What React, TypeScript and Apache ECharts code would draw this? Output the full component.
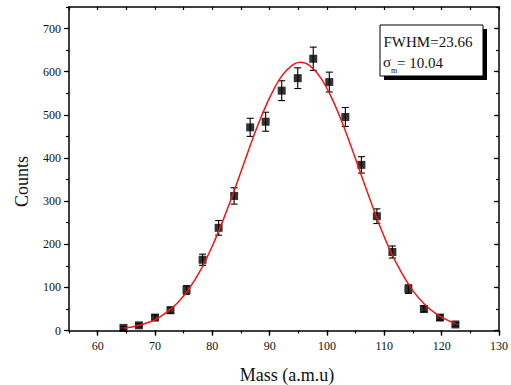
import React, { useEffect, useRef } from "react";
import * as echarts from "echarts";

// Measured data points (Mass in a.m.u, Counts, error)
const massX = [64.5, 67.2, 70.0, 72.7, 75.5, 78.3, 81.1, 83.8, 86.6, 89.3, 92.1, 94.9, 97.6, 100.4, 103.2, 106.0, 108.7, 111.4, 114.2, 116.9, 119.7, 122.4];
const counts = [6, 12, 30, 47, 94, 164, 238, 312, 471, 484, 556, 585, 630, 576, 495, 384, 265, 182, 96, 50, 30, 14];
const countErr = [3, 4, 6, 7, 10, 13, 17, 19, 21, 22, 23, 24, 27, 23, 22, 19, 17, 14, 10, 7, 6, 4];

// Fit curve
const curveX = [64.5, 66, 68, 70, 72, 74, 76, 78, 80, 82, 84, 86, 88, 90, 92, 94, 95.4, 97, 99, 101, 103, 105, 107, 109, 111, 113, 115, 117, 119, 121, 122.5];
const curveY = [5, 8, 15, 25, 42, 65, 98, 141, 196, 260, 331, 406, 478, 540, 588, 616, 622, 614, 584, 534, 470, 397, 322, 250, 186, 134, 92, 61, 39, 24, 16];

// Axis ticks
const xMajorTicks = [60, 70, 80, 90, 100, 110, 120, 130];
const yMajorTicks = [0, 100, 200, 300, 400, 500, 600, 700];

const FONT = "'Liberation Serif', 'Times New Roman', serif";

const fitLabel = "FWHM=23.66";
const sigmaSymbol = "σ";
const sigmaSub = "m";
const sigmaValue = "= 10.04";

export default function App() {
  const ref = useRef<HTMLDivElement>(null);
  useEffect(() => {
    if (!ref.current) return;
    const chart = echarts.init(ref.current, null, { renderer: "svg" });
    const line = { color: "#000", width: 1.5 };
    const lab = { color: "#111", fontFamily: FONT, fontSize: 12 };
    const xBase = { type: "value", min: 55, max: 130, gridIndex: 0, splitLine: { show: false } };
    const yBase = { type: "value", min: 0, max: 750, gridIndex: 0, splitLine: { show: false } };
    const option: any = {
      animation: false,
      backgroundColor: "#fff",
      grid: { left: 69, right: 10, top: 7, bottom: 54.5, containLabel: false },
      xAxis: [
        { ...xBase, position: "bottom", interval: 5, axisLine: { show: true, onZero: false, lineStyle: line },
          axisTick: { show: true, inside: false, length: 3, lineStyle: { color: "#000", width: 1.2 } },
          axisLabel: { show: false } },
        { ...xBase, position: "bottom", axisLine: { show: false },
          axisTick: { show: true, inside: false, length: 5, customValues: xMajorTicks, lineStyle: { color: "#000", width: 1.2 } },
          axisLabel: { show: true, customValues: xMajorTicks, margin: 9, ...lab } },
        { ...xBase, position: "top", interval: 5, axisLine: { show: true, onZero: false, lineStyle: line },
          axisTick: { show: true, inside: true, length: 3, lineStyle: { color: "#000", width: 1.2 } },
          axisLabel: { show: false } },
        { ...xBase, position: "top", axisLine: { show: false },
          axisTick: { show: true, inside: true, length: 5, customValues: xMajorTicks, lineStyle: { color: "#000", width: 1.2 } },
          axisLabel: { show: false } },
      ],
      yAxis: [
        { ...yBase, position: "left", interval: 50, axisLine: { show: true, onZero: false, lineStyle: line },
          axisTick: { show: true, inside: false, length: 3, lineStyle: { color: "#000", width: 1.2 } },
          axisLabel: { show: false } },
        { ...yBase, position: "left", axisLine: { show: false },
          axisTick: { show: true, inside: false, length: 5, customValues: yMajorTicks, lineStyle: { color: "#000", width: 1.2 } },
          axisLabel: { show: true, customValues: yMajorTicks, margin: 8, ...lab } },
        { ...yBase, position: "right", interval: 50, axisLine: { show: true, onZero: false, lineStyle: line },
          axisTick: { show: true, inside: true, length: 3, lineStyle: { color: "#000", width: 1.2 } },
          axisLabel: { show: false } },
        { ...yBase, position: "right", axisLine: { show: false },
          axisTick: { show: true, inside: true, length: 5, customValues: yMajorTicks, lineStyle: { color: "#000", width: 1.2 } },
          axisLabel: { show: false } },
      ],
      series: [
        {
          type: "custom",
          xAxisIndex: 0,
          yAxisIndex: 0,
          data: massX.map((x, i) => [x, counts[i], countErr[i]]),
          encode: { x: 0, y: 1 },
          z: 3,
          renderItem: (params: any, api: any) => {
            const x = api.value(0);
            const y = api.value(1);
            const e = api.value(2);
            const top = api.coord([x, y + e]);
            const bot = api.coord([x, y - e]);
            const hw = 3.5;
            const st = { stroke: "#000", lineWidth: 1.1 };
            return {
              type: "group",
              children: [
                { type: "line", shape: { x1: top[0], y1: top[1], x2: bot[0], y2: bot[1] }, style: st },
                { type: "line", shape: { x1: top[0] - hw, y1: top[1], x2: top[0] + hw, y2: top[1] }, style: st },
                { type: "line", shape: { x1: bot[0] - hw, y1: bot[1], x2: bot[0] + hw, y2: bot[1] }, style: st },
              ],
            };
          },
        },
        {
          type: "scatter",
          xAxisIndex: 0,
          yAxisIndex: 0,
          symbol: "rect",
          symbolSize: 8,
          itemStyle: { color: "#000" },
          data: massX.map((x, i) => [x, counts[i]]),
          z: 4,
        },
        {
          type: "line",
          xAxisIndex: 0,
          yAxisIndex: 0,
          smooth: 0.3,
          showSymbol: false,
          symbol: "none",
          lineStyle: { color: "#ff1010", width: 1.5 },
          data: curveX.map((x, i) => [x, curveY[i]]),
          z: 5,
        },
      ],
      graphic: [
        { type: "text", x: 287, y: 375, style: { text: "Mass (a.m.u)", fontFamily: FONT, fontSize: 18, fill: "#111", textAlign: "center", textVerticalAlign: "middle" } },
        { type: "text", x: 21.5, y: 181.5, rotation: Math.PI / 2, style: { text: "Counts", fontFamily: FONT, fontSize: 18, fill: "#111", textAlign: "center", textVerticalAlign: "middle" } },
        { type: "rect", shape: { x: 384, y: 29, width: 103, height: 51 }, style: { fill: "#000" }, z: 10 },
        { type: "rect", shape: { x: 380, y: 25, width: 103, height: 51 }, style: { fill: "#fff", stroke: "#000", lineWidth: 1 }, z: 11 },
        { type: "text", x: 383.5, y: 41.7, z: 12, style: { text: fitLabel, fontFamily: FONT, fontSize: 15, fill: "#111", textAlign: "left", textVerticalAlign: "middle" } },
        { type: "text", x: 383, y: 62.2, z: 12, style: { text: sigmaSymbol, fontFamily: FONT, fontSize: 15, fill: "#111", textAlign: "left", textVerticalAlign: "middle" } },
        { type: "text", x: 391, y: 70.5, z: 12, style: { text: sigmaSub, fontFamily: FONT, fontSize: 8, fill: "#111", textAlign: "left", textVerticalAlign: "middle" } },
        { type: "text", x: 397, y: 62.7, z: 12, style: { text: sigmaValue, fontFamily: FONT, fontSize: 15, fill: "#111", textAlign: "left", textVerticalAlign: "middle" } },
      ],
    };
    chart.setOption(option);
    return () => chart.dispose();
  }, []);
  return (
    <div
      ref={ref}
      style={{ position: "fixed", left: 0, top: 0, width: 511, height: 385, background: "#fff" }}
    />
  );
}
